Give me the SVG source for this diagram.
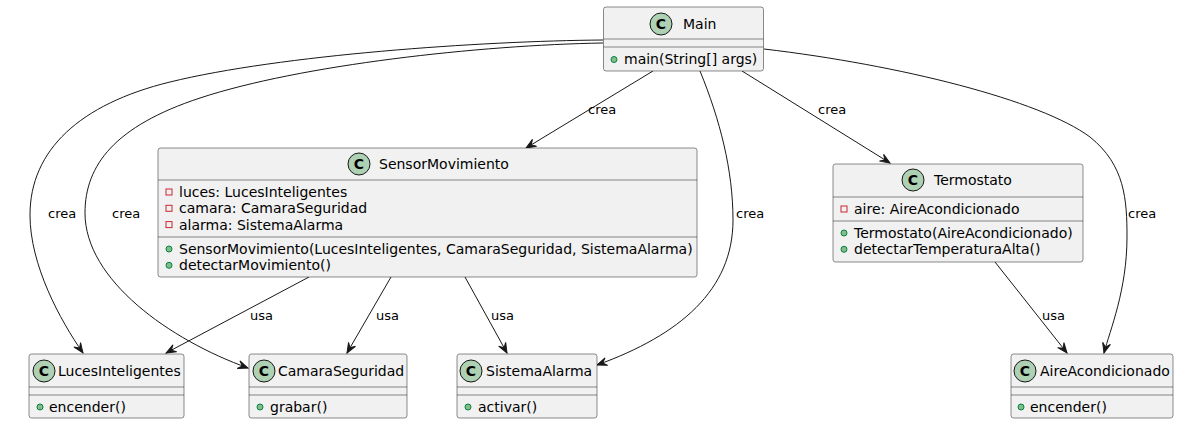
<svg xmlns="http://www.w3.org/2000/svg" width="1179" height="424" viewBox="0 0 1179 424">
<style>
.box{fill:#F1F1F1;stroke:#181818;stroke-width:0.5}
.sep{stroke:#181818;stroke-width:0.5}
.ic{fill:#ADD1B2;stroke:#181818;stroke-width:1}
.icl{font-family:"DejaVu Sans",sans-serif;font-size:14px;font-weight:bold;fill:#000;text-anchor:middle}
.nm{font-family:"DejaVu Sans",sans-serif;font-size:14px;fill:#000}
.mb{font-family:"DejaVu Sans",sans-serif;font-size:14px;fill:#000}
.pv{fill:none;stroke:#C82930;stroke-width:1}
.pb{fill:#84BE84;stroke:#038048;stroke-width:1}
.lbl{font-family:"DejaVu Sans",sans-serif;font-size:13px;fill:#000}
.edge{fill:none;stroke:#181818;stroke-width:1}
</style>
<defs>
<marker id="arr" viewBox="-11 -5 12 10" refX="0" refY="0" markerWidth="12" markerHeight="10" markerUnits="userSpaceOnUse" orient="auto">
<path d="M0,0 L-10,-4 L-6,0 L-10,4 Z" fill="#181818" stroke="#181818" stroke-width="1"/>
</marker>
</defs>

<g id="connectors">
<path class="edge" marker-end="url(#arr)" d="M603,40 C480,41 280,55 170,82 C80,104 30,150 30,215 C30,265 60,320 83,353"/>
<text class="lbl" x="48" y="218">crea</text>
<path class="edge" marker-end="url(#arr)" d="M603,43 C480,45 300,65 200,98 C115,126 85,165 85,213 C85,280 170,340 248,368"/>
<text class="lbl" x="112" y="218">crea</text>
<path class="edge" marker-end="url(#arr)" d="M653,71 L526,148"/>
<text class="lbl" x="588" y="114">crea</text>
<path class="edge" marker-end="url(#arr)" d="M700,71 C720,120 733,170 733,220 C733,290 680,335 597,365"/>
<text class="lbl" x="736" y="218">crea</text>
<path class="edge" marker-end="url(#arr)" d="M742,71 L890,163"/>
<text class="lbl" x="818" y="114">crea</text>
<path class="edge" marker-end="url(#arr)" d="M764,49 C900,65 1040,100 1090,137 C1125,165 1127,200 1127,237 C1127,290 1110,330 1104,353"/>
<text class="lbl" x="1128" y="218">crea</text>
<path class="edge" marker-end="url(#arr)" d="M309,277 L166,353"/>
<text class="lbl" x="250" y="320">usa</text>
<path class="edge" marker-end="url(#arr)" d="M391,277 L347,353"/>
<text class="lbl" x="376" y="320">usa</text>
<path class="edge" marker-end="url(#arr)" d="M465,277 L507,353"/>
<text class="lbl" x="491" y="320">usa</text>
<path class="edge" marker-end="url(#arr)" d="M995,262 L1067,353"/>
<text class="lbl" x="1042" y="320">usa</text>
</g>

<g id="Main">
<rect class="box" x="603.5" y="7" width="160" height="64" rx="2.5"/>
<circle class="ic" cx="661" cy="24" r="11"/>
<text class="icl" x="661" y="29">C</text>
<text class="nm" x="683" y="29">Main</text>
<line class="sep" x1="603.5" y1="39" x2="763.5" y2="39"/>
<line class="sep" x1="603.5" y1="47" x2="763.5" y2="47"/>
<circle class="pb" cx="614" cy="59.5" r="3"/>
<text class="mb" x="624" y="64">main(String[] args)</text>
</g>

<g id="SensorMovimiento">
<rect class="box" x="158" y="148" width="539" height="129" rx="2.5"/>
<circle class="ic" cx="359" cy="164" r="11"/>
<text class="icl" x="359" y="169">C</text>
<text class="nm" x="379" y="169">SensorMovimiento</text>
<line class="sep" x1="158" y1="180" x2="697" y2="180"/>
<rect class="pv" x="166" y="189" width="6" height="6"/>
<text class="mb" x="179" y="197">luces: LucesInteligentes</text>
<rect class="pv" x="166" y="205.3" width="6" height="6"/>
<text class="mb" x="179" y="213.3">camara: CamaraSeguridad</text>
<rect class="pv" x="166" y="221.6" width="6" height="6"/>
<text class="mb" x="179" y="229.6">alarma: SistemaAlarma</text>
<line class="sep" x1="158" y1="237" x2="697" y2="237"/>
<circle class="pb" cx="169" cy="249" r="3"/>
<text class="mb" x="179" y="254">SensorMovimiento(LucesInteligentes, CamaraSeguridad, SistemaAlarma)</text>
<circle class="pb" cx="169" cy="265.3" r="3"/>
<text class="mb" x="179" y="270.3">detectarMovimiento()</text>
</g>

<g id="Termostato">
<rect class="box" x="833" y="164" width="250" height="98" rx="2.5"/>
<circle class="ic" cx="913" cy="180" r="11"/>
<text class="icl" x="913" y="185">C</text>
<text class="nm" x="934" y="185">Termostato</text>
<line class="sep" x1="833" y1="197" x2="1083" y2="197"/>
<rect class="pv" x="841" y="206" width="6" height="6"/>
<text class="mb" x="854" y="214">aire: AireAcondicionado</text>
<line class="sep" x1="833" y1="221" x2="1083" y2="221"/>
<circle class="pb" cx="844" cy="233" r="3"/>
<text class="mb" x="854" y="238">Termostato(AireAcondicionado)</text>
<circle class="pb" cx="844" cy="249.3" r="3"/>
<text class="mb" x="854" y="254.3">detectarTemperaturaAlta()</text>
</g>

<g id="LucesInteligentes">
<rect class="box" x="29" y="354" width="155" height="64" rx="2.5"/>
<circle class="ic" cx="44" cy="371" r="11"/>
<text class="icl" x="44" y="376">C</text>
<text class="nm" x="58" y="376">LucesInteligentes</text>
<line class="sep" x1="29" y1="387" x2="184" y2="387"/>
<line class="sep" x1="29" y1="395" x2="184" y2="395"/>
<circle class="pb" cx="40" cy="407" r="3"/>
<text class="mb" x="49" y="412">encender()</text>
</g>

<g id="CamaraSeguridad">
<rect class="box" x="249" y="354" width="158" height="64" rx="2.5"/>
<circle class="ic" cx="264" cy="371" r="11"/>
<text class="icl" x="264" y="376">C</text>
<text class="nm" x="278" y="376">CamaraSeguridad</text>
<line class="sep" x1="249" y1="387" x2="407" y2="387"/>
<line class="sep" x1="249" y1="395" x2="407" y2="395"/>
<circle class="pb" cx="260" cy="407" r="3"/>
<text class="mb" x="270" y="412">grabar()</text>
</g>

<g id="SistemaAlarma">
<rect class="box" x="457" y="354" width="140" height="64" rx="2.5"/>
<circle class="ic" cx="471" cy="371" r="11"/>
<text class="icl" x="471" y="376">C</text>
<text class="nm" x="486" y="376">SistemaAlarma</text>
<line class="sep" x1="457" y1="387" x2="597" y2="387"/>
<line class="sep" x1="457" y1="395" x2="597" y2="395"/>
<circle class="pb" cx="468" cy="407" r="3"/>
<text class="mb" x="478" y="412">activar()</text>
</g>

<g id="AireAcondicionado">
<rect class="box" x="1011" y="354" width="162" height="64" rx="2.5"/>
<circle class="ic" cx="1025" cy="371" r="11"/>
<text class="icl" x="1025" y="376">C</text>
<text class="nm" x="1040" y="376">AireAcondicionado</text>
<line class="sep" x1="1011" y1="387" x2="1173" y2="387"/>
<line class="sep" x1="1011" y1="395" x2="1173" y2="395"/>
<circle class="pb" cx="1021" cy="407" r="3"/>
<text class="mb" x="1030" y="412">encender()</text>
</g>
</svg>
